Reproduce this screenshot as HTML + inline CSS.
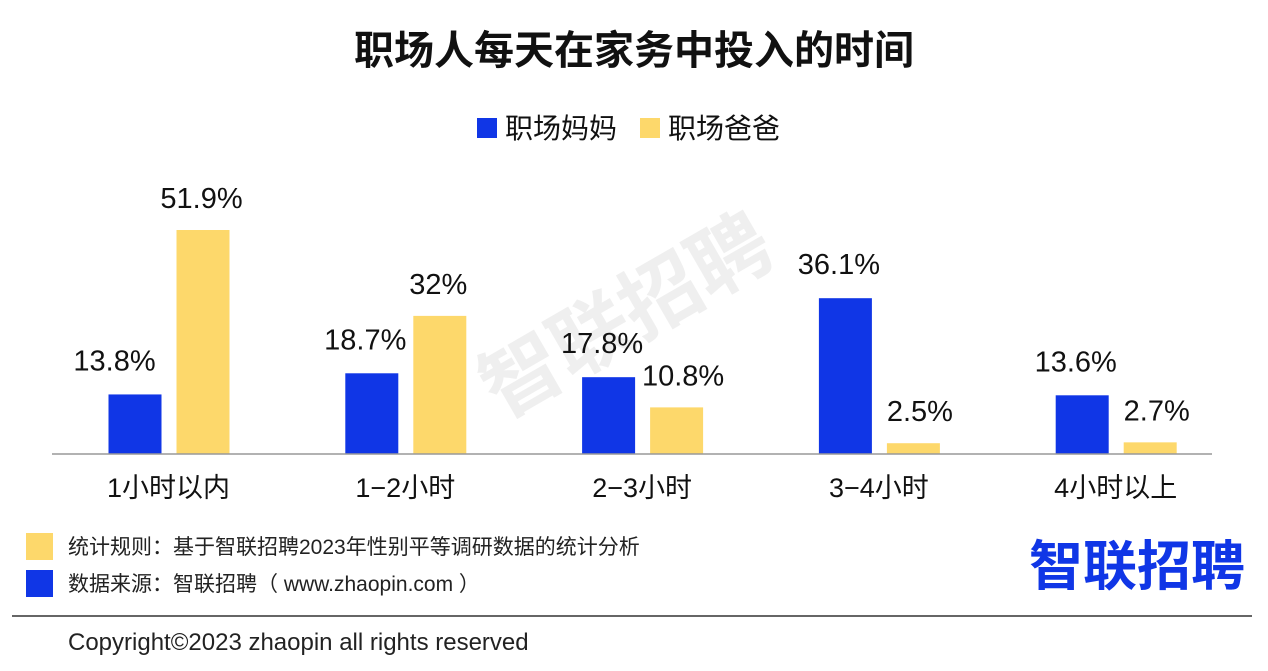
<!DOCTYPE html>
<html><head><meta charset="utf-8">
<style>
body{margin:0;width:1268px;height:671px;background:#fff;overflow:hidden;font-family:"Liberation Sans","Noto Sans CJK SC",sans-serif;}
svg{display:block}
</style></head>
<body>
<svg id="chart" width="1268" height="671">
<text x="634" y="64" text-anchor="middle" font-size="40" font-weight="bold" fill="#111" font-family="Liberation Sans,Noto Sans CJK SC,sans-serif">职场人每天在家务中投入的时间</text>
<g>
<rect x="477" y="118" width="20" height="20" fill="#1036e6"/>
<text x="505" y="138" font-size="28" fill="#111">职场妈妈</text>
<rect x="640" y="118" width="20" height="20" fill="#fdd86b"/>
<text x="668" y="138" font-size="28" fill="#111">职场爸爸</text>
</g>
<text x="640" y="340" text-anchor="middle" font-size="80" font-weight="bold" fill="#000" opacity="0.06" transform="rotate(-30 640 340)">智联招聘</text>
<g id="bars"></g>
<line x1="52" y1="454" x2="1212" y2="454" stroke="#999" stroke-width="1.5"/>
<rect x="26" y="533" width="27" height="27" fill="#fdd86b"/>
<text x="68" y="554" font-size="21" fill="#222">统计规则：基于智联招聘2023年性别平等调研数据的统计分析</text>
<rect x="26" y="570" width="27" height="27" fill="#1036e6"/>
<text x="68" y="591" font-size="21" fill="#222">数据来源：智联招聘（ www.zhaopin.com ）</text>
<text x="1245" y="585" text-anchor="end" font-size="54" font-weight="bold" fill="#1036e6">智联招聘</text>
<line x1="12" y1="616" x2="1252" y2="616" stroke="#333" stroke-width="1.5"/>
<text x="68" y="650" font-size="24" fill="#222">Copyright©2023 zhaopin all rights reserved</text>
</svg>
<script>
const categories=["1小时以内","1−2小时","2−3小时","3−4小时","4小时以上"];
const momValues=[13.8,18.7,17.8,36.1,13.6];
const dadValues=[51.9,32,10.8,2.5,2.7];
const momLabels=["13.8%","18.7%","17.8%","36.1%","13.6%"];
const dadLabels=["51.9%","32%","10.8%","2.5%","2.7%"];
const NS="http://www.w3.org/2000/svg";
const g=document.getElementById("bars");
const base=454, scale=224/51.9, bw=53;
function xc(i){return 168.5+i*236.8;}
function y(v){return base-v*scale;}
function mk(tag,a){const e=document.createElementNS(NS,tag);for(const k in a)e.setAttribute(k,a[k]);g.appendChild(e);return e;}
categories.forEach((c,i)=>{
  const cx=xc(i);
  const b1=mk("rect",{x:cx-60,y:y(momValues[i]),width:bw,height:base-y(momValues[i]),fill:"#1036e6"});
  
  
  const b2=mk("rect",{x:cx+8,y:y(dadValues[i]),width:bw,height:base-y(dadValues[i]),fill:"#fdd86b"});
  
  
  const t1=mk("text",{x:cx-(i===0?54:40),y:y(momValues[i])-24,"text-anchor":"middle","font-size":29,fill:"#111"});
  t1.textContent=momLabels[i];
  
  
  const t2=mk("text",{x:cx+(i<2?33:41),y:y(dadValues[i])-22,"text-anchor":"middle","font-size":29,fill:"#111"});
  t2.textContent=dadLabels[i];
  
  
  const t3=mk("text",{x:cx,y:497,"text-anchor":"middle","font-size":27,fill:"#111"});
  t3.textContent=c;
  
  
});
</script>
</body></html>
